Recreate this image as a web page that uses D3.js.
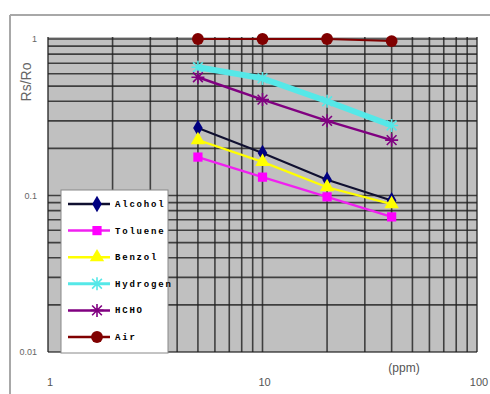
<!DOCTYPE html>
<html>
<head>
<meta charset="utf-8">
<script src="https://cdn.jsdelivr.net/npm/d3@7"></script>
<style>
  body { margin: 0; background: #fff; }
  svg { display: block; }
</style>
</head>
<body>
<div id="chart1"></div>
<script>
var w = 490;
var h = 394;

// concentrations (ppm)
var ppm = [5, 10, 20, 40];
// Rs/Ro values per gas
var alcohol = [0.27, 0.187, 0.126, 0.093];
var toluene = [0.176, 0.131, 0.098, 0.073];
var benzol = [0.226, 0.164, 0.113, 0.088];
var hydrogen = [0.66, 0.56, 0.40, 0.28];
var hcho = [0.57, 0.41, 0.30, 0.226];
var air = [1, 1, 1, 0.97];

var names = ["Alcohol", "Toluene", "Benzol", "Hydrogen", "HCHO", "Air"];
var yTickLabels = ["0.01", "0.1", "1"];
var xTickLabels = ["1", "10", "100"];

var series = [
  {name: names[0], values: alcohol, line: "#101030", fill: "#000080", width: 2, marker: "diamond"},
  {name: names[1], values: toluene, line: "#f020f0", fill: "#ff00ff", width: 2.2, marker: "square"},
  {name: names[2], values: benzol, line: "#ffff00", fill: "#ffff00", width: 2.2, marker: "triangle"},
  {name: names[3], values: hydrogen, line: "#55e8e8", fill: "#55e8e8", width: 6, marker: "star"},
  {name: names[4], values: hcho, line: "#800080", fill: "#800080", width: 2.5, marker: "star"},
  {name: names[5], values: air, line: "#800000", fill: "#800000", width: 2, marker: "circle"}
];

var pLeft = 48, pRight = 477, pTop = 39, pBottom = 352;

var xScale = d3.scaleLog().domain([1, 100]).range([pLeft, pRight]);
var yScale = d3.scaleLog().domain([0.01, 1]).range([pBottom, pTop]);

function markerPath(type) {
  if (type == "diamond") return d3.symbol().type(d3.symbolDiamond).size(80)();
  if (type == "square") return d3.symbol().type(d3.symbolSquare).size(85)();
  if (type == "triangle") return d3.symbol().type(d3.symbolTriangle).size(90)();
  if (type == "circle") return d3.symbol().type(d3.symbolCircle).size(110)();
  // asterisk
  var r = 6.5;
  var d = r * 0.75;
  return "M" + (-d) + "," + (-d) + "L" + d + "," + d +
         "M" + (-d) + "," + d + "L" + d + "," + (-d) +
         "M0," + (-r) + "L0," + r + "M" + (-r) + ",0L" + r + ",0";
}

function drawMarker(g, s, x, y) {
  var p = g.append("path")
    .attr("d", markerPath(s.marker))
    .attr("transform", "translate(" + x + "," + y + ")");
  if (s.marker == "star") {
    p.attr("fill", "none").attr("stroke", s.fill).attr("stroke-width", 1.6);
  } else {
    p.attr("fill", s.fill);
  }
}

function main() {
  var svg1 = d3.select("#chart1")
    .append("svg")
    .attr("width", w)
    .attr("height", h);

  // outer chart frame
  svg1.append("line").attr("x1", 10).attr("x2", w).attr("y1", 15).attr("y2", 15)
    .attr("stroke", "#a8a8a8").attr("stroke-width", 2);
  svg1.append("line").attr("x1", 10).attr("x2", 10).attr("y1", 15).attr("y2", h)
    .attr("stroke", "#a8a8a8").attr("stroke-width", 2);

  // plot background
  svg1.append("rect")
    .attr("x", pLeft).attr("y", pTop - 2)
    .attr("width", pRight - pLeft).attr("height", pBottom - pTop + 2)
    .attr("fill", "#c0c0c0");

  // grid
  var grid = svg1.append("g");
  grid.selectAll(".vx")
    .data(xScale.ticks())
    .enter().append("line")
    .attr("x1", d => xScale(d)).attr("x2", d => xScale(d))
    .attr("y1", pTop - 2).attr("y2", pBottom)
    .attr("stroke", "#202020").attr("stroke-width", 1.6).attr("opacity", 0.8);
  grid.selectAll(".hy")
    .data(yScale.ticks())
    .enter().append("line")
    .attr("x1", pLeft).attr("x2", pRight)
    .attr("y1", d => yScale(d)).attr("y2", d => yScale(d))
    .attr("stroke", "#202020").attr("stroke-width", 1.6).attr("opacity", 0.8);

  // axis labels
  svg1.selectAll(".ylab")
    .data(yTickLabels)
    .enter().append("text")
    .attr("x", 37)
    .attr("y", d => yScale(+d) + 3)
    .attr("text-anchor", "end")
    .attr("font-family", "Liberation Sans, Arial, sans-serif")
    .attr("font-size", "9px")
    .attr("fill", "#666")
    .text(d => d);
  svg1.selectAll(".xlab")
    .data(xTickLabels)
    .enter().append("text")
    .attr("x", d => xScale(+d) + 2)
    .attr("y", 386)
    .attr("text-anchor", "middle")
    .attr("font-family", "Liberation Sans, Arial, sans-serif")
    .attr("font-size", "11px")
    .attr("fill", "#555")
    .text(d => d);
  svg1.append("text")
    .attr("transform", "translate(31,82) rotate(-90)")
    .attr("text-anchor", "middle")
    .attr("font-family", "Liberation Sans, Arial, sans-serif")
    .attr("font-size", "14px")
    .attr("fill", "#666")
    .text("Rs/Ro");
  svg1.append("text")
    .attr("x", 404).attr("y", 372)
    .attr("text-anchor", "middle")
    .attr("font-family", "Liberation Sans, Arial, sans-serif")
    .attr("font-size", "12px")
    .attr("fill", "#555")
    .text("(ppm)");

  // series lines
  var line = d3.line()
    .x((d, i) => xScale(ppm[i]))
    .y(d => yScale(d));
  var order = [3, 0, 1, 2, 4, 5];
  order.forEach(function(k) {
    var s = series[k];
    svg1.append("path")
      .datum(s.values)
      .attr("d", line)
      .attr("fill", "none")
      .attr("stroke", s.line)
      .attr("stroke-width", s.width);
  });
  order.forEach(function(k) {
    var s = series[k];
    var g = svg1.append("g");
    s.values.forEach(function(v, i) {
      drawMarker(g, s, xScale(ppm[i]), yScale(v));
    });
  });

  // legend
  var lg = svg1.append("g");
  lg.append("rect")
    .attr("x", 61).attr("y", 190)
    .attr("width", 107).attr("height", 163)
    .attr("fill", "#fff")
    .attr("stroke", "#888").attr("stroke-width", 1);
  series.forEach(function(s, i) {
    var y = 204 + i * 26.6;
    lg.append("line")
      .attr("x1", 68).attr("x2", 110)
      .attr("y1", y).attr("y2", y)
      .attr("stroke", s.line)
      .attr("stroke-width", i == 3 ? 3 : 2.5);
    drawMarker(lg, s, 97, y);
    lg.append("text")
      .attr("x", 115).attr("y", y + 3)
      .attr("font-family", "Liberation Mono, monospace")
      .attr("font-weight", "bold")
      .attr("font-size", "9px")
      .attr("letter-spacing", "1.8px")
      .attr("fill", "#000")
      .text(s.name);
  });
}

window.onload = function() {
  main();
};
</script>
</body>
</html>
